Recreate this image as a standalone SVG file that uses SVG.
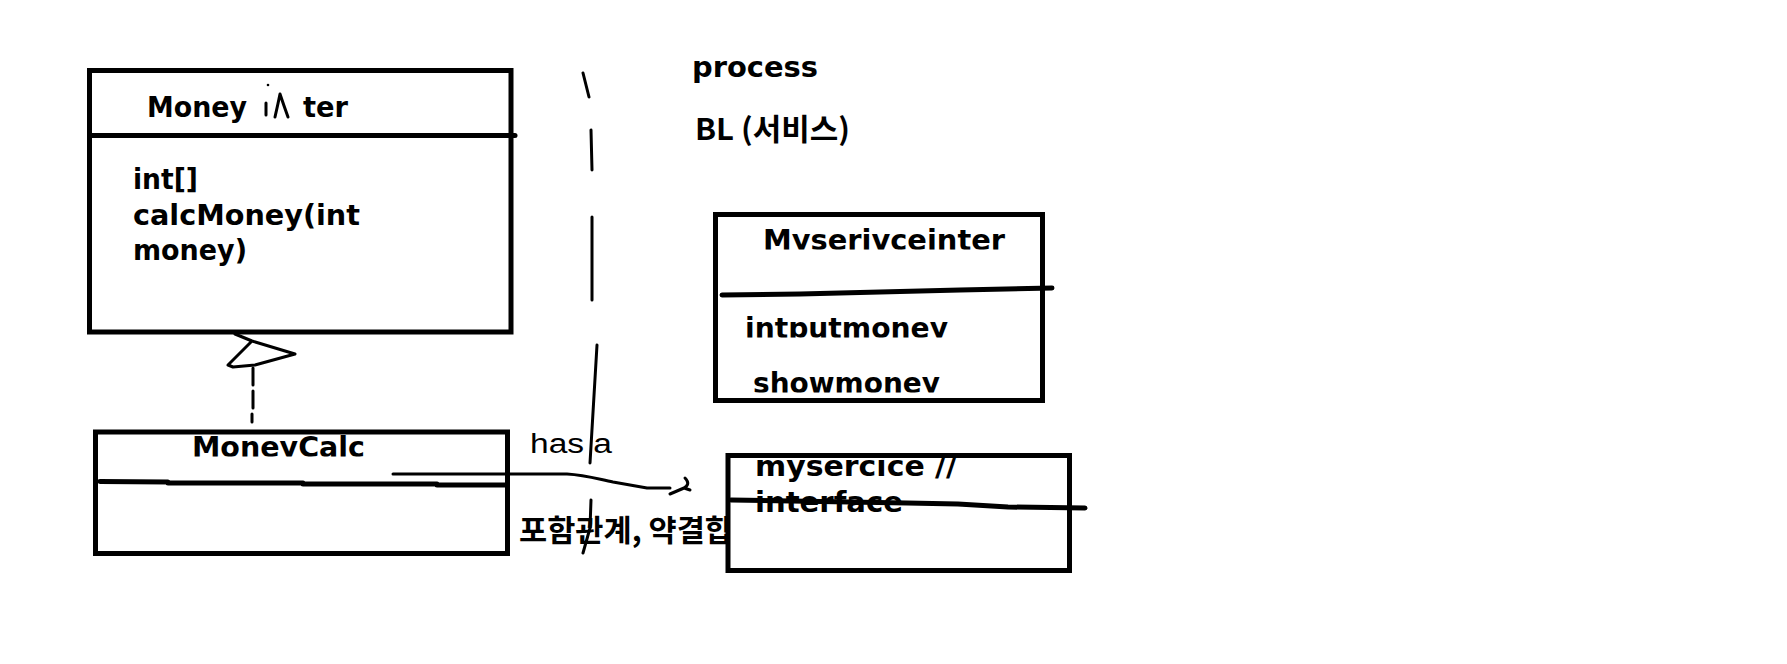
<svg xmlns="http://www.w3.org/2000/svg" width="1787" height="664" viewBox="0 0 1787 664">
<style>
.box{fill:#fff;stroke:#000;stroke-width:5}
.bar{fill:none;stroke:#000;stroke-width:5;stroke-linecap:round;stroke-linejoin:round}
.hand{fill:none;stroke:#000;stroke-width:3;stroke-linecap:round;stroke-linejoin:round}
.t{font-family:"DejaVu Sans","Noto Sans CJK KR",sans-serif;font-weight:bold;font-size:28px;fill:#000}
.k{font-family:"Noto Sans CJK KR","DejaVu Sans",sans-serif;font-weight:bold;font-size:30px;fill:#000}
.hw{font-family:"Liberation Sans",sans-serif;font-size:27px;fill:#000}
</style>
<defs>
<clipPath id="cMC"><rect x="98" y="434" width="405" height="22.5"/></clipPath>
<clipPath id="cMS"><rect x="718" y="217" width="322" height="32.5"/></clipPath>
<clipPath id="cIn"><rect x="718" y="300" width="322" height="37.5"/></clipPath>
<clipPath id="cSh"><rect x="718" y="350" width="322" height="42.5"/></clipPath>
</defs>
<rect width="1787" height="664" fill="#fff"/>

<g id="moneyinter">
<rect class="box" x="89.5" y="70.5" width="421.5" height="261.5"/>
<path class="bar" d="M90 135.5 L515 135.5"/>
<text class="t" x="147" y="117" textLength="100" lengthAdjust="spacingAndGlyphs">Money</text>
<text class="t" x="303" y="117" textLength="45" lengthAdjust="spacingAndGlyphs">ter</text>
<path class="hand" d="M266 103 L266 115 M275 117 Q278 104 280 94 Q284 106 288 117"/>
<circle cx="268" cy="85" r="1.3" fill="#000"/>
<text class="t" x="133" y="189" textLength="65" lengthAdjust="spacingAndGlyphs">int[]</text>
<text class="t" x="133" y="225" textLength="227" lengthAdjust="spacingAndGlyphs">calcMoney(int</text>
<text class="t" x="133" y="260" textLength="114" lengthAdjust="spacingAndGlyphs">money)</text>
</g>

<g id="moneycalc">
<rect class="box" x="95.5" y="432" width="412" height="121.5"/>
<text class="t" x="192" y="457" textLength="173" lengthAdjust="spacingAndGlyphs" clip-path="url(#cMC)">MoneyCalc</text>
<path class="bar" d="M100 481.5 L168 482 L168 483 L303 483 L303 484 L437 484 L437 485 L505 485"/>
</g>

<g id="labels">
<text class="t" x="692" y="77" textLength="126" lengthAdjust="spacingAndGlyphs">process</text>
<text class="k" x="695" y="140" textLength="155" lengthAdjust="spacingAndGlyphs">BL (서비스)</text>
<text class="k" x="519" y="541" textLength="214" lengthAdjust="spacingAndGlyphs">포함관계, 약결합</text>
<text class="hw" x="530" y="453" textLength="82" lengthAdjust="spacingAndGlyphs">has a</text>
</g>

<g id="myserviceinter">
<rect class="box" x="715.5" y="214.5" width="327" height="186"/>
<text class="t" x="763" y="250" textLength="242" lengthAdjust="spacingAndGlyphs" clip-path="url(#cMS)">Myserivceinter</text>
<path class="bar" d="M722 295 L800 294 L880 292 L960 290 L1052 288"/>
<text class="t" x="745" y="338" textLength="203" lengthAdjust="spacingAndGlyphs" clip-path="url(#cIn)">intputmoney</text>
<text class="t" x="753" y="393" textLength="187" lengthAdjust="spacingAndGlyphs" clip-path="url(#cSh)">showmoney</text>
</g>

<g id="myservice">
<rect class="box" x="728" y="455.5" width="341.5" height="115"/>
<text class="t" x="755" y="476" textLength="202" lengthAdjust="spacingAndGlyphs">mysercice //</text>
<text class="t" x="755" y="512" textLength="148" lengthAdjust="spacingAndGlyphs">interface</text>
<path class="bar" d="M731 500 L907 503 L958 504 L1008 507 L1085 508"/>
</g>

<g id="connectors">
<path class="hand" d="M235 334 L252 341 L295 354 L255 365 L233 367 L228 365 L252 341"/>
<path class="hand" stroke-width="3.5" d="M253 368 L253 385 M253 391 L253 408 M252 414 L252 422"/>
<path class="hand" d="M393 474 L567 474 C585 475 598 479 613 482 L647 488 L670 488"/>
<path class="hand" d="M670 494 L684 488 Q691 484 685 478 M684 488 L690 490"/>
<path class="hand" d="M583 73 L589 97 M591 130 L592 170 M592 217 L592 300 M597 345 L590 463 M591 500 L590 528 L583 553"/>
</g>
</svg>
